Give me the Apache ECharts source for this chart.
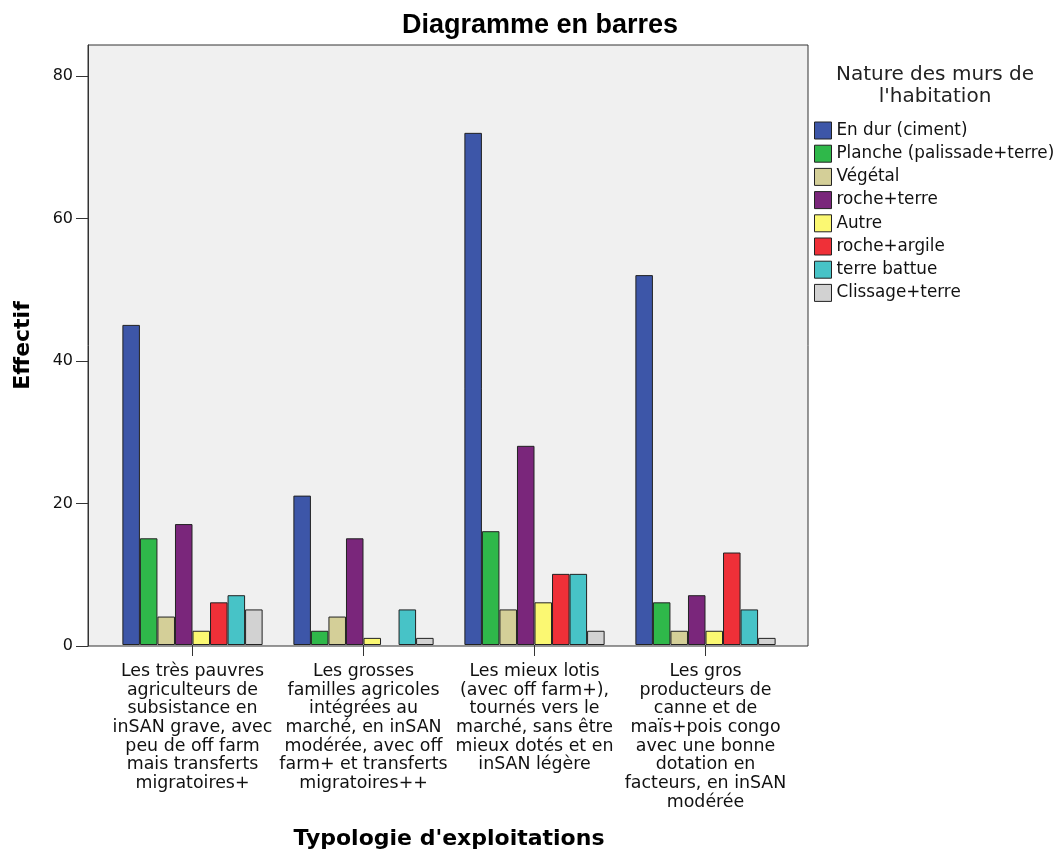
<!DOCTYPE html>
<html><head><meta charset="utf-8">
<script src="https://cdn.jsdelivr.net/npm/echarts@6/dist/echarts.min.js"></script>
<style>html,body{margin:0;padding:0;background:#fff}#c{width:1057px;height:855px}</style>
</head><body><div id="c"></div>
<script>
const categories = [
  "Les très pauvres\nagriculteurs de\nsubsistance en\ninSAN grave, avec\npeu de off farm\nmais transferts\nmigratoires+",
  "Les grosses\nfamilles agricoles\nintégrées au\nmarché, en inSAN\nmodérée, avec off\nfarm+ et transferts\nmigratoires++",
  "Les mieux lotis\n(avec off farm+),\ntournés vers le\nmarché, sans être\nmieux dotés et en\ninSAN légère",
  "Les gros\nproducteurs de\ncanne et de\nmaïs+pois congo\navec une bonne\ndotation en\nfacteurs, en inSAN\nmodérée"
];
const seriesNames = ["En dur (ciment)","Planche (palissade+terre)","Végétal","roche+terre","Autre","roche+argile","terre battue","Clissage+terre"];
const enDur = [45,21,72,52];
const planche = [15,2,16,6];
const vegetal = [4,4,5,2];
const rocheTerre = [17,15,28,7];
const autre = [2,1,6,2];
const rocheArgile = [6,0,10,13];
const terreBattue = [7,5,10,5];
const clissage = [5,1,2,1];
const yTicks = [0,20,40,60,80];
const allValues = [enDur,planche,vegetal,rocheTerre,autre,rocheArgile,terreBattue,clissage];
const colors = ["#3d56a8","#2fb84a","#d4cf98","#7a267b","#fbf872","#ef3038","#47c3c7","#d2d2d2"];

const SANS = 'DejaVu Sans, sans-serif';
const chart = echarts.init(document.getElementById('c'));
const yMax = 84.35;
chart.setOption({
  animation:false,
  textStyle:{fontFamily:SANS},
  title:[
    {text:'Diagramme en barres',left:535,top:7,textAlign:'center',textStyle:{fontFamily:'Liberation Sans, Arial, sans-serif',fontSize:27,fontWeight:'bold',color:'#000'}},
    {text:"Nature des murs de\nl'habitation",left:930,top:59,textAlign:'center',textStyle:{fontFamily:SANS,fontSize:20,fontWeight:'normal',color:'#222',lineHeight:22}}
  ],
  legend:{orient:'vertical',left:814,top:121.5,padding:0,itemWidth:17,itemHeight:17,itemGap:5.2,icon:'rect',
    textStyle:{fontFamily:SANS,fontSize:16.8,color:'#111'},
    itemStyle:{borderColor:'#222',borderWidth:1},
    data:seriesNames},
  grid:[
    {left:88,top:45,width:720,height:601,show:true,backgroundColor:'#f0f0f0',borderColor:'#333',borderWidth:1},
    {left:107,top:45,width:684,height:601}
  ],
  xAxis:[
    {type:'value',gridIndex:0,show:false,min:0,max:1},
    {type:'category',gridIndex:1,data:categories,
      axisLine:{show:false},
      axisTick:{show:true,alignWithLabel:true,length:11,lineStyle:{color:'#333'}},
      axisLabel:{fontFamily:SANS,fontSize:17.4,color:'#111',lineHeight:18.7,margin:17,interval:0},
      name:"Typologie d'exploitations",nameLocation:'middle',nameGap:183,
      nameTextStyle:{fontFamily:SANS,fontSize:22,fontWeight:'bold',color:'#000'}}
  ],
  yAxis:[
    {type:'value',gridIndex:0,min:0,max:yMax,interval:20,
      axisLine:{show:true,lineStyle:{color:'#333'}},
      axisTick:{show:true,length:12,lineStyle:{color:'#333'}},
      axisLabel:{fontFamily:SANS,fontSize:16,color:'#111',margin:15,showMaxLabel:false,formatter:v=>yTicks.includes(v)?String(v):''},
      splitLine:{show:false},
      name:'Effectif',nameLocation:'middle',nameGap:54,nameRotate:90,
      nameTextStyle:{fontFamily:SANS,fontSize:22,fontWeight:'bold',color:'#000'}},
    {type:'value',gridIndex:1,min:0,max:yMax,show:false,splitLine:{show:false}}
  ],
  series: seriesNames.map((n,i)=>({
    name:n,type:'bar',xAxisIndex:1,yAxisIndex:1,
    data:allValues[i].map(v=>v===0?{value:v,itemStyle:{borderWidth:0}}:v),
    barGap:'0%',barCategoryGap:'18%',
    itemStyle:{color:colors[i],borderColor:'#222',borderWidth:1}
  }))
});
</script></body></html>
